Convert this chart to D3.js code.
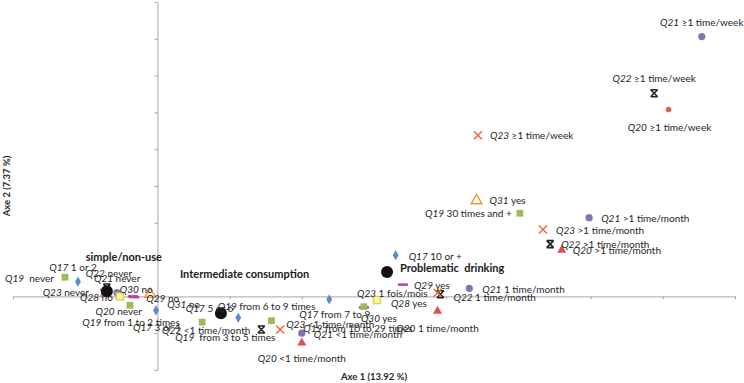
<!DOCTYPE html>
<html>
<head>
<meta charset="utf-8">
<script src="https://cdn.jsdelivr.net/npm/d3@7"></script>
<style>
  body { margin: 0; background: #fff; }
  svg { display: block; font-family: Lato, "Open Sans", sans-serif; }
</style>
</head>
<body>
<div id="chart"></div>
<script>
// categories (question + modality), coordinates on axe 1 / axe 2
let questions = ['Q21', 'Q22', 'Q20', 'Q23', 'Q31', 'Q19', 'Q21', 'Q23', 'Q22', 'Q20',
    'Q17', '', 'Q29', 'Q21', 'Q22', 'Q23', 'Q20', 'Q28', 'Q17', 'Q30',
    'Q19', 'Q23', 'Q21', 'Q20', 'Q22', 'Q19', 'Q17', '', 'Q19', 'Q17',
    'Q31', 'Q29', 'Q19', 'Q20', 'Q19', 'Q17', 'Q22', 'Q21', '', 'Q23',
    'Q28', 'Q30'];
let modalities = ['≥1 time/week', '≥1 time/week', '≥1 time/week', '≥1 time/week', 'yes', '30 times and +',
    '>1 time/month', '>1 time/month', '>1 time/month', '>1 time/month',
    '10 or +', 'Problematic  drinking', 'yes', '1 time/month', '1 time/month', '1 fois/mois',
    '1 time/month', 'yes', 'from 7 to 9', 'yes',
    'from 10 to 29 times', '<1 time/month', '<1 time/month', '<1 time/month', '<1 time/month',
    'from 6 to 9 times', '5 or 6', 'Intermediate consumption', ' from 3 to 5 times', '3 or 4',
    'no', 'no', 'from 1 to 2 times', 'never', ' never', '1 or 2', 'never', 'never',
    'simple/non-use', 'never', 'no', 'no'];
let axe1 = [3.77, 3.44, 3.54, 2.22, 2.21, 2.51, 2.99, 2.67, 2.72, 2.80,
    1.65, 1.59, 1.70, 2.16, 1.96, 1.94, 1.94, 1.52, 1.19, 1.43,
    1.43, 0.85, 1.00, 1.00, 0.72, 0.79, 0.56, 0.44, 0.31, -0.01,
    -0.05, -0.16, -0.19, -0.26, -0.64, -0.55, -0.35, -0.28, -0.35, -0.37,
    -0.26, -0.17];
let axe2 = [3.53, 2.76, 2.54, 2.19, 1.30, 1.13, 1.07, 0.91, 0.71, 0.63,
    0.56, 0.33, 0.16, 0.11, 0.03, 0.05, -0.20, -0.05, -0.04, -0.15,
    -0.14, -0.45, -0.50, -0.63, -0.45, -0.33, -0.29, -0.23, -0.35, -0.19,
    0.03, -0.01, -0.12, 0.01, 0.26, 0.20, 0.12, 0.05, 0.07, 0.05,
    0.00, 0.00];
let tickValues = [-1, -0.5, 0, 0.5, 1, 1.5, 2, 2.5, 3, 3.5, 4];
let axisTitles = ['Axe 1 (13.92 %)', 'Axe 2 (7.37 %)'];

// marker per point (style, kept apart from the values)
let markerOf = ['circle', 'star', 'dot', 'x', 'otri', 'square', 'circle', 'x', 'star', 'tri',
    'diamond', 'cluster', 'dash', 'circle', 'star', 'x', 'tri', 'osq', 'diamond', 'dash',
    'square', 'x', 'circle', 'tri', 'star', 'square', 'diamond', 'cluster', 'square', 'diamond',
    'otri', 'dash', 'square', 'tri', 'square', 'diamond', 'star', 'circle', 'cluster', 'x',
    'osq', 'dash'];
// label placement: dx, dy (px from marker), anchor
let labelPos = [[0, -14, 'middle'], [0, -15, 'middle'], [1, 18, 'middle'], [12, 0, 'start'], [13, 0, 'start'],
    [-8, 0, 'end'], [12, 1, 'start'], [13, 1, 'start'], [11, 0, 'start'], [11, 0, 'start'],
    [13, 1, 'start'], [13, -4, 'start'], [11, 1, 'start'], [13, 1, 'start'], [13, 3, 'start'],
    [-10, 1, 'end'], [0, 17, 'middle'], [14, 3, 'start'], [-30, 15, 'start'], [-3, 11, 'start'],
    [-6, 22, 'middle'], [6, -5, 'start'], [12, 1, 'start'], [0, 16, 'middle'], [-11, 1, 'end'],
    [-5, -14, 'middle'], [-5, -9, 'end'], [-41, -39, 'start'], [-27, 15, 'start'], [-23, 17, 'start'],
    [17, 10, 'start'], [12, 1, 'start'], [1, 17, 'middle'], [22, 16, 'end'], [-11, 1, 'end'],
    [-5, -14, 'middle'], [-21, -14, 'start'], [-23, -14, 'start'], [17, -34, 'middle'], [-15, 0, 'end'],
    [-7, 1, 'end'], [-13, -7, 'start']];

let width = 744, height = 383;
let svg = d3.select('#chart').append('svg')
    .attr('width', width)
    .attr('height', height);

let x = d3.scaleLinear().domain([-1, 4]).range([13, 735]);
let y = d3.scaleLinear().domain([-1, 4]).range([370, 2]);

//axes
let axisColor = '#a6a6a6';
let gx = svg.append('g').attr('transform', 'translate(0,' + y(0) + ')')
    .call(d3.axisBottom(x).tickValues(tickValues).tickSize(3).tickSizeOuter(0).tickFormat(''));
let gy = svg.append('g').attr('transform', 'translate(' + x(0) + ',0)')
    .call(d3.axisLeft(y).tickValues(tickValues).tickSize(3).tickSizeOuter(0).tickFormat(''));
[gx, gy].forEach(function (g) {
    g.selectAll('path, line').attr('stroke', axisColor).attr('stroke-width', 1);
});

svg.append('text')
    .attr('x', 374).attr('y', 380)
    .attr('text-anchor', 'middle')
    .style('font-size', '9.5px').style('font-weight', 'bold').style('fill', '#262626')
    .text(axisTitles[0]);
svg.append('text')
    .attr('transform', 'translate(10,186) rotate(-90)')
    .attr('text-anchor', 'middle')
    .style('font-size', '9.5px').style('font-weight', 'bold').style('fill', '#262626')
    .text(axisTitles[1]);

let points = questions.map(function (q, i) {
    return {q: q, m: modalities[i], x: axe1[i], y: axe2[i], marker: markerOf[i], pos: labelPos[i]};
});

//markers (cluster centres drawn last, on top)
let sym = function (type, size) {
    return d3.symbol().type(type).size(size)();
};
let ordered = points.filter(function (d) { return d.marker !== 'cluster'; })
    .concat(points.filter(function (d) { return d.marker === 'cluster'; }));
let mk = svg.append('g');
ordered.forEach(function (d) {
    let g = mk.append('g').attr('transform', 'translate(' + x(d.x) + ',' + y(d.y) + ')');
    switch (d.marker) {
        case 'diamond':
            g.append('path').attr('d', sym(d3.symbolDiamond, 30)).attr('fill', '#5a8ccc');
            break;
        case 'square':
            g.append('path').attr('d', sym(d3.symbolSquare, 46)).attr('fill', '#9bbb59');
            break;
        case 'tri':
            g.append('path').attr('d', sym(d3.symbolTriangle, 36)).attr('fill', '#d9534f');
            break;
        case 'dot':
            g.append('circle').attr('r', 2.8).attr('fill', '#d9634f');
            break;
        case 'circle':
            g.append('circle').attr('r', 3.6).attr('fill', '#8a72b0');
            break;
        case 'star':
            g.append('path').attr('d', 'M-3.5,-3.5L3.5,3.5M3.5,-3.5L-3.5,3.5M-3.5,-3.5H3.5M-3.5,3.5H3.5')
                .attr('stroke', '#222').attr('stroke-width', 1.6).attr('fill', 'none');
            break;
        case 'x':
            g.append('path').attr('d', 'M-4,-4L4,4M4,-4L-4,4')
                .attr('stroke', '#f2673d').attr('stroke-width', 1.5).attr('fill', 'none');
            break;
        case 'osq':
            g.append('rect').attr('x', -3.5).attr('y', -3.5).attr('width', 7).attr('height', 7)
                .attr('fill', '#f7f4a8').attr('stroke', '#dcd84a').attr('stroke-width', 1.4);
            break;
        case 'dash':
            g.append('line').attr('x1', -5).attr('x2', 5)
                .attr('stroke', '#c03d9e').attr('stroke-width', 2.5);
            break;
        case 'otri':
            g.append('path').attr('d', sym(d3.symbolTriangle, 50))
                .attr('fill', '#fff').attr('stroke', '#f0962e').attr('stroke-width', 1.4);
            break;
        case 'cluster':
            g.append('circle').attr('r', 6).attr('fill', '#111');
            break;
    }
});

//labels
let lb = svg.append('g').style('fill', '#262626');
points.forEach(function (d) {
    let t = lb.append('text')
        .attr('x', x(d.x) + d.pos[0])
        .attr('y', y(d.y) + d.pos[1])
        .attr('dy', '0.35em')
        .attr('text-anchor', d.pos[2]);
    if (d.q === '') {
        t.style('font-size', '11px').style('font-weight', 'bold').style('fill', '#1a1a1a')
            .style('white-space', 'pre').text(d.m);
    } else {
        t.style('font-size', '10px').style('white-space', 'pre');
        t.append('tspan').style('font-style', 'italic').text(d.q);
        t.append('tspan').text(' ' + d.m);
    }
});
</script>
</body>
</html>
